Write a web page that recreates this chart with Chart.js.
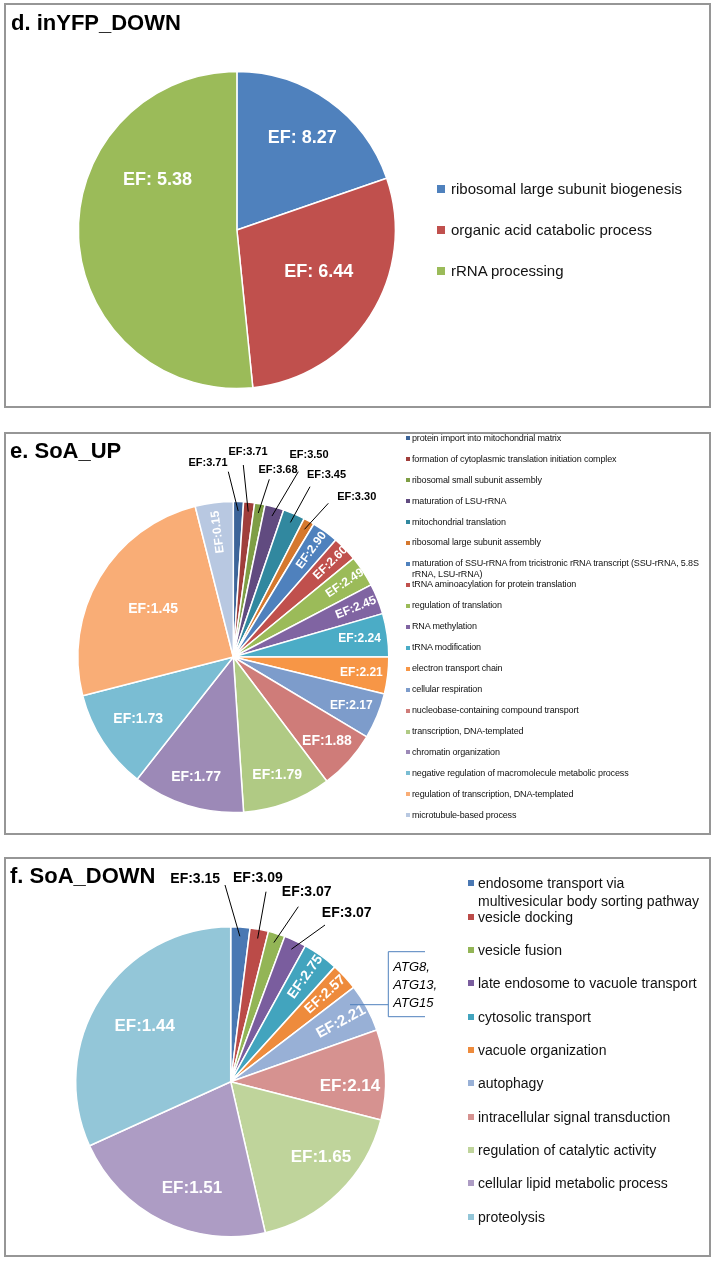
<!DOCTYPE html>
<html>
<head>
<meta charset="utf-8">
<script src="https://cdn.jsdelivr.net/npm/chart.js@4.4.1/dist/chart.umd.min.js"></script>
<style>
    html, body { margin: 0; padding: 0; background: #fff; }
    body {
        position: relative;
        width: 714px;
        height: 1261px;
        overflow: hidden;
        font-family: "Liberation Sans", Arial, sans-serif;
    }
    .box {
        position: absolute;
        left: 4px;
        width: 707px;
        border: 2px solid #969696;
        box-sizing: border-box;
    }
    .wrap { position: absolute; left: 0; width: 714px; }
    .title {
        position: absolute;
        font-weight: bold;
        font-size: 22px;
        line-height: 22px;
        color: #000;
        white-space: nowrap;
    }
    .lg-sq { position: absolute; }
    .lg-tx { position: absolute; color: #111; }
</style>
</head>
<body>
<script>
// Данные: d. inYFP_DOWN (доли секторов, EF - подписи)
const dCategories = ['ribosomal large subunit biogenesis', 'organic acid catabolic process', 'rRNA processing'];
const dShares = [19.7, 28.7, 51.6];
const dEF = [8.27, 6.44, 5.38];
const dColors = ['#4F81BD', '#C0504D', '#9BBB59'];

// Данные: e. SoA_UP
const eCategories = [
    'protein import into mitochondrial matrix',
    'formation of cytoplasmic translation initiation complex',
    'ribosomal small subunit assembly',
    'maturation of LSU-rRNA',
    'mitochondrial translation',
    'ribosomal large subunit assembly',
    'maturation of SSU-rRNA from tricistronic rRNA transcript (SSU-rRNA, 5.8S rRNA, LSU-rRNA)',
    'tRNA aminoacylation for protein translation',
    'regulation of translation',
    'RNA methylation',
    'tRNA modification',
    'electron transport chain',
    'cellular respiration',
    'nucleobase-containing compound transport',
    'transcription, DNA-templated',
    'chromatin organization',
    'negative regulation of macromolecule metabolic process',
    'regulation of transcription, DNA-templated',
    'microtubule-based process'
];
const eShares = [3.8, 4.1, 3.9, 7.1, 8.2, 4.1, 10.0, 9.4, 11.8, 11.4, 16.2, 13.8, 17.1, 22.1, 33.2, 42.0, 37.4, 90.2, 14.2];
const eEF = [3.71, 3.71, 3.68, 3.50, 3.45, 3.30, 2.90, 2.60, 2.49, 2.45, 2.24, 2.21, 2.17, 1.88, 1.79, 1.77, 1.73, 1.45, 0.15];
const eColors = ['#3C6499', '#A03E3B', '#7E9E45', '#614B80', '#31889F', '#D5782E',
    '#4F81BD', '#C0504D', '#9BBB59', '#8064A2', '#4BACC6', '#F79646',
    '#7D9CCB', '#CF7C79', '#B0CA84', '#9C89B7', '#7ABDD3', '#F9AD76', '#B8C8E1'];

// Данные: f. SoA_DOWN
const fCategories = [
    'endosome transport via multivesicular body sorting pathway',
    'vesicle docking',
    'vesicle fusion',
    'late endosome to vacuole transport',
    'cytosolic transport',
    'vacuole organization',
    'autophagy',
    'intracellular signal transduction',
    'regulation of catalytic activity',
    'cellular lipid metabolic process',
    'proteolysis'
];
const fShares = [7.2, 6.9, 6.3, 8.4, 13.4, 10.3, 18.0, 33.8, 62.8, 78.5, 114.4];
const fEF = [3.15, 3.09, 3.07, 3.07, 2.75, 2.57, 2.21, 2.14, 1.65, 1.51, 1.44];
const fColors = ['#4A78B3', '#BB4B48', '#93B556', '#7A5D9E', '#42A4BE', '#EE8B3C',
    '#98B0D6', '#D69290', '#BFD49B', '#AD9CC4', '#93C6D8'];
const fNote = ['ATG8,', 'ATG13,', 'ATG15'];

const FONT = '"Liberation Sans", Arial, sans-serif';

// Подписи внутри секторов, выноски и скобка (настройки берём из замыкания,
// чтобы Chart.js не превращал массивы объектов в прокси)
function makeLabelPlugin(p) {
    return {
        id: 'pieLabels',
        afterDatasetsDraw(chart) {
            const ctx = chart.ctx;
            const arcs = chart.getDatasetMeta(0).data;
            let cx = 0, cy = 0;
            ctx.save();
            ctx.textAlign = 'center';
            ctx.textBaseline = 'middle';
            arcs.forEach((arc, i) => {
                const {x, y, startAngle, endAngle, outerRadius} =
                    arc.getProps(['x', 'y', 'startAngle', 'endAngle', 'outerRadius'], true);
                cx = x; cy = y;
                const mid = (startAngle + endAngle) / 2;
                const text = p.prefix + p.ef[i].toFixed(2);
                const ins = p.inside[i];
                const call = p.callouts[i];
                if (ins) {
                    const a = ins.at !== undefined ? (ins.at - 90) * Math.PI / 180 : mid;
                    ctx.save();
                    ctx.translate(x + Math.cos(a) * outerRadius * ins.r, y + Math.sin(a) * outerRadius * ins.r);
                    if (ins.rot) {
                        let t = a;
                        if (t > Math.PI) t -= 2 * Math.PI;
                        ctx.rotate(t);
                    }
                    ctx.font = `bold ${ins.size || p.size}px ${FONT}`;
                    ctx.fillStyle = '#fff';
                    ctx.fillText(text, 0, 0);
                    ctx.restore();
                } else if (call) {
                    ctx.strokeStyle = '#000';
                    ctx.lineWidth = 1;
                    ctx.beginPath();
                    ctx.moveTo(x + call.lx, y + call.ly);
                    ctx.lineTo(x + Math.cos(mid) * outerRadius * 0.94, y + Math.sin(mid) * outerRadius * 0.94);
                    ctx.stroke();
                    ctx.font = `bold ${p.callSize}px ${FONT}`;
                    ctx.fillStyle = '#000';
                    ctx.fillText(text, x + call.tx, y + call.ty);
                }
            });
            const b = p.bracket;
            if (b) {
                ctx.strokeStyle = '#4F81BD';
                ctx.lineWidth = 1;
                ctx.beginPath();
                ctx.moveTo(cx + b.x0, cy + b.y);
                ctx.lineTo(cx + b.x1, cy + b.y);
                ctx.moveTo(cx + b.x1 + b.arm, cy + b.top);
                ctx.lineTo(cx + b.x1, cy + b.top);
                ctx.lineTo(cx + b.x1, cy + b.bottom);
                ctx.lineTo(cx + b.x1 + b.arm, cy + b.bottom);
                ctx.stroke();
                ctx.font = `italic 13px ${FONT}`;
                ctx.fillStyle = '#000';
                ctx.textAlign = 'left';
                b.lines.forEach((s, k) => ctx.fillText(s, cx + b.tx, cy + b.ty + k * b.gap));
            }
            ctx.restore();
        }
    };
}

// Разметка панелей
const panels = [
    {
        title: 'd. inYFP_DOWN', top: 3, height: 405, titleTop: 12, titleLeft: 11,
        cx: 236.9, cy: 230, r: 158.5,
        labels: dCategories, values: dShares, ef: dEF, colors: dColors, prefix: 'EF: ',
        size: 18, callSize: 11,
        inside: [{r: 0.71}, {r: 0.58, at: 117}, {r: 0.59, at: 302}],
        callouts: [],
        legend: {sqX: 437, sq: 8, x: 451, y0: 189, step: 41, font: 15, lh: 18, maxW: 260, ls: 0}
    },
    {
        title: 'e. SoA_UP', top: 432, height: 403, titleTop: 440.4, titleLeft: 10,
        cx: 233.3, cy: 657, r: 155.5,
        labels: eCategories, values: eShares, ef: eEF, colors: eColors, prefix: 'EF:',
        size: 14, callSize: 11,
        inside: [null, null, null, null, null, null,
            {r: 0.85, rot: true, size: 12}, {r: 0.87, rot: true, size: 12},
            {r: 0.86, rot: true, size: 12}, {r: 0.85, rot: true, size: 12},
            {r: 0.82, size: 12}, {r: 0.83, size: 12}, {r: 0.82, size: 12},
            {r: 0.81}, {r: 0.81}, {r: 0.81}, {r: 0.73}, {r: 0.60},
            {r: 0.81, rot: true, size: 12}],
        callouts: [
            {tx: -25.3, ty: -193.7, lx: -5, ly: -185.3},
            {tx: 14.7, ty: -205.3, lx: 10, ly: -192},
            {tx: 44.7, ty: -187, lx: 36, ly: -177.7},
            {tx: 75.7, ty: -202, lx: 65, ly: -185.3},
            {tx: 93.2, ty: -182, lx: 76.7, ly: -170.3},
            {tx: 123.4, ty: -160.3, lx: 95, ly: -153.7}
        ],
        legend: {sqX: 406, sq: 4, x: 412, y0: 438.2, step: 20.95, font: 9, lh: 11, maxW: 296, ls: -0.15}
    },
    {
        title: 'f. SoA_DOWN', top: 857, height: 400, titleTop: 865.4, titleLeft: 10,
        cx: 230.7, cy: 1081.7, r: 155,
        labels: fCategories, values: fShares, ef: fEF, colors: fColors, prefix: 'EF:',
        size: 17, callSize: 14,
        inside: [null, null, null, null,
            {r: 0.83, rot: true, size: 14}, {r: 0.83, rot: true, size: 14},
            {r: 0.81, rot: true, size: 15},
            {r: 0.77, at: 92}, {r: 0.76, at: 130}, {r: 0.73, at: 200}, {r: 0.66}],
        callouts: [
            {tx: -35.5, ty: -202.7, lx: -5.7, ly: -196.7},
            {tx: 27.2, ty: -204, lx: 35.3, ly: -190},
            {tx: 76, ty: -189.4, lx: 67.6, ly: -175},
            {tx: 116, ty: -169, lx: 94.3, ly: -156.7}
        ],
        bracket: {x0: 119.3, x1: 157.6, y: -77, top: -130, bottom: -65, arm: 36.7,
            tx: 162.6, ty: -114.5, gap: 18, lines: fNote},
        legend: {sqX: 468, sq: 6, x: 478, y0: 883.3, step: 33.33, font: 14, lh: 18, maxW: 228, ls: 0}
    }
];

function addEl(cls, css, text) {
    const el = document.createElement('div');
    el.className = cls;
    Object.assign(el.style, css);
    if (text !== undefined) el.textContent = text;
    document.body.appendChild(el);
    return el;
}

function buildPanel(p) {
    addEl('box', {top: p.top + 'px', height: p.height + 'px'});

    const wrap = addEl('wrap', {top: p.top + 'px', height: p.height + 'px'});
    const canvas = document.createElement('canvas');
    canvas.width = 714;
    canvas.height = p.height;
    wrap.appendChild(canvas);

    // центр круга задаём через отступы области графика
    const padX = 2 * p.cx - 714;
    const padY = 2 * (p.cy - p.top) - p.height;
    const padding = {
        left: Math.max(padX, 0), right: Math.max(-padX, 0),
        top: Math.max(padY, 0), bottom: Math.max(-padY, 0)
    };

    new Chart(canvas.getContext('2d'), {
        type: 'pie',
        data: {
            labels: p.labels,
            datasets: [{
                data: p.values,
                backgroundColor: p.colors,
                borderColor: '#ffffff',
                borderWidth: 1.5,
                radius: p.r
            }]
        },
        options: {
            responsive: false,
            animation: false,
            events: [],
            layout: {padding},
            plugins: {
                legend: {display: false},
                tooltip: {enabled: false}
            }
        },
        plugins: [makeLabelPlugin(p)]
    });

    addEl('title', {top: p.titleTop + 'px', left: p.titleLeft + 'px'}, p.title);

    // легенда
    const lg = p.legend;
    p.labels.forEach((name, i) => {
        const y = lg.y0 + i * lg.step;
        addEl('lg-sq', {
            left: lg.sqX + 'px', top: (y - lg.sq / 2) + 'px',
            width: lg.sq + 'px', height: lg.sq + 'px', background: p.colors[i]
        });
        addEl('lg-tx', {
            left: lg.x + 'px', top: (y - lg.lh / 2) + 'px', maxWidth: lg.maxW + 'px',
            fontSize: lg.font + 'px', lineHeight: lg.lh + 'px', letterSpacing: lg.ls + 'px'
        }, name);
    });
}

panels.forEach(buildPanel);
</script>
</body>
</html>
